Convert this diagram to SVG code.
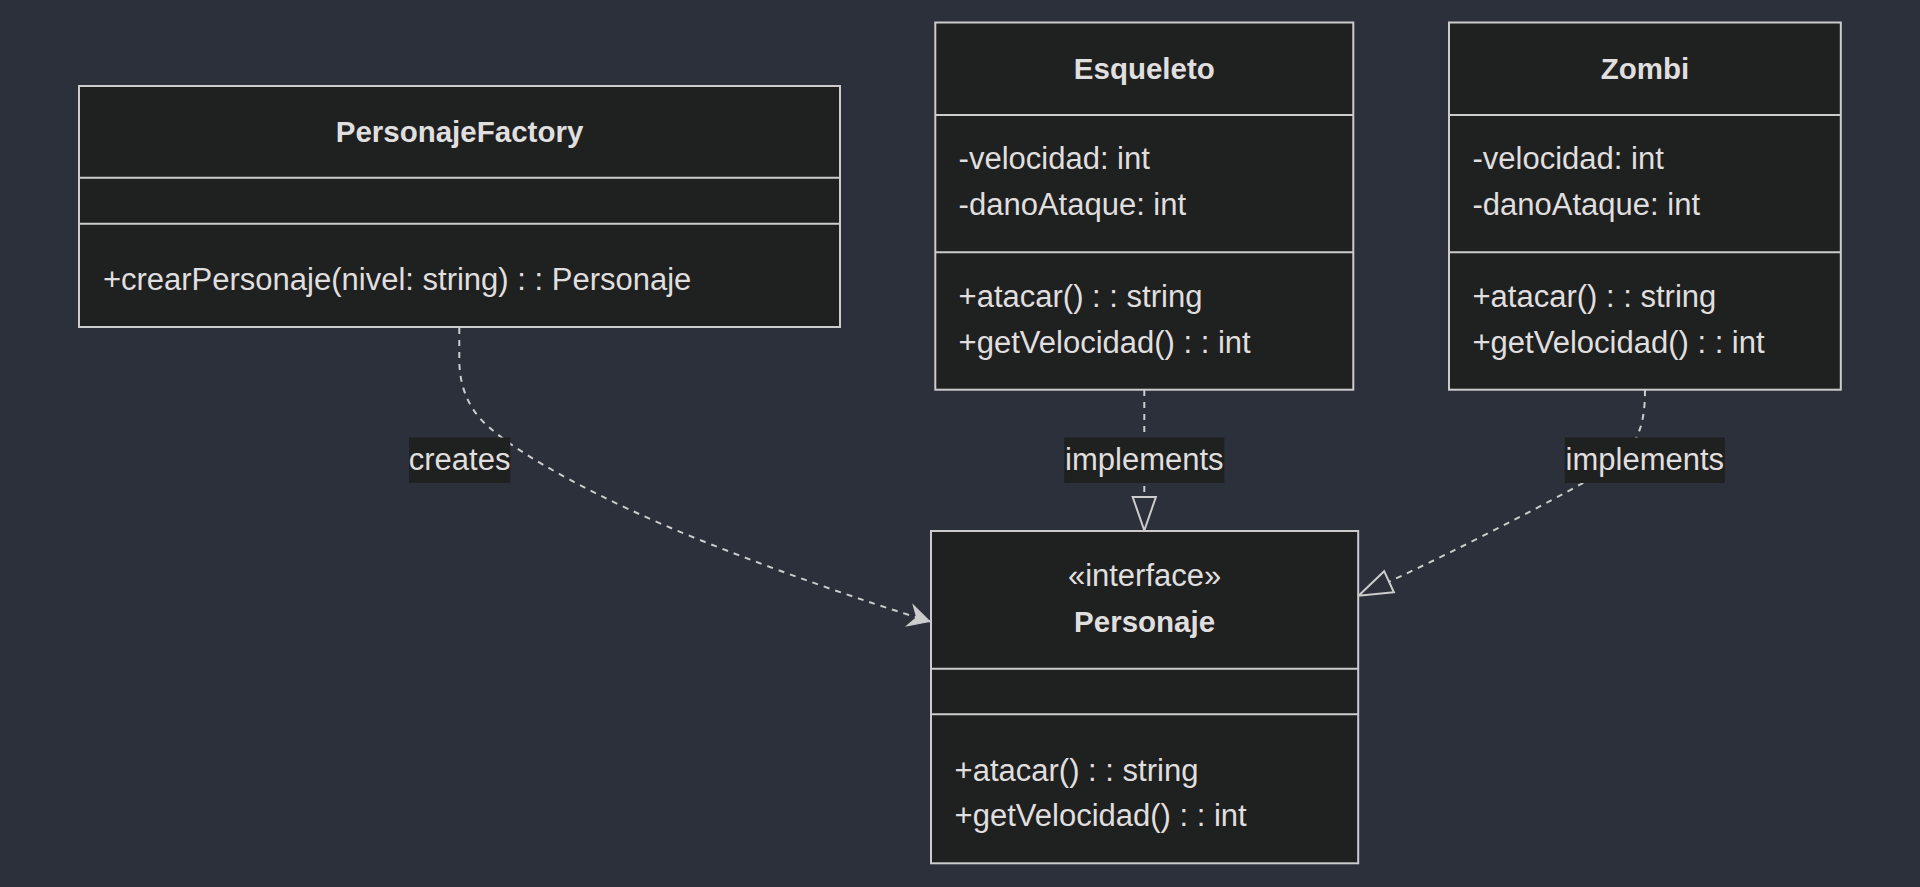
<svg xmlns="http://www.w3.org/2000/svg" width="1920" height="887" viewBox="0 0 1920 887">
<style>
.box{fill:#1f2020;stroke:#cccccc;stroke-width:2}
.sep{stroke:#cccccc;stroke-width:2}
.t{font-family:"Liberation Sans",Arial,sans-serif;font-size:31px;fill:#e0dfdf}
.b{font-family:"Liberation Sans",Arial,sans-serif;font-size:29.5px;font-weight:bold;fill:#e0dfdf;text-anchor:middle}
.c{text-anchor:middle}
.edge{fill:none;stroke:#cccccc;stroke-width:2;stroke-dasharray:6 6}
.lbl{fill:#1f2020}
</style>
<defs>
<marker id="dep" viewBox="-24 -13 26 26" refX="0" refY="0" markerWidth="26" markerHeight="26" markerUnits="userSpaceOnUse" orient="auto">
<path d="M0,0 L-21,-11 L-14,0 L-21,11 Z" fill="#cccccc" stroke="#cccccc" stroke-width="1"/>
</marker>
<marker id="real" viewBox="-2 -14 38 28" refX="0" refY="0" markerWidth="38" markerHeight="28" markerUnits="userSpaceOnUse" orient="auto">
<path d="M0,-11.6 L33.5,0 L0,11.6 Z" fill="none" stroke="#cccccc" stroke-width="2"/>
</marker>
</defs>
<rect width="1920" height="887" fill="#2b303b"/>
<g id="connectors">
<path class="edge" d="M459.3,328 L459.3,360 C459.3,385 468,410 490,428 C520,455 600,500 700,540 C780,572 860,600 930,621.5" marker-end="url(#dep)"/>
<path class="edge" d="M1144.3,390 L1144.3,497" marker-end="url(#real)"/>
<path class="edge" d="M1645,390 C1645,420 1640,440 1620,460 C1595,480 1450,553.7 1389,581.7" marker-end="url(#real)"/>
<g id="label-creates">
<rect class="lbl" x="409" y="437.5" width="101.3" height="45.5"/>
<text class="t c" x="459.6" y="470">creates</text>
</g>
<g id="label-implements-1">
<rect class="lbl" x="1064.3" y="437.5" width="160" height="45.5"/>
<text class="t c" x="1144.3" y="470">implements</text>
</g>
<g id="label-implements-2">
<rect class="lbl" x="1564.8" y="437.5" width="160" height="45.5"/>
<text class="t c" x="1644.8" y="470">implements</text>
</g>
</g>
<g id="PersonajeFactory">
<rect class="box" x="79" y="86" width="761" height="241"/>
<line class="sep" x1="79" y1="177.7" x2="840" y2="177.7"/>
<line class="sep" x1="79" y1="223.7" x2="840" y2="223.7"/>
<text class="b" x="459.5" y="141.5">PersonajeFactory</text>
<text class="t" x="102.9" y="290">+crearPersonaje(nivel: string) : : Personaje</text>
</g>
<g id="Esqueleto">
<rect class="box" x="935.3" y="22.5" width="418" height="367.2"/>
<line class="sep" x1="935.3" y1="115" x2="1353.3" y2="115"/>
<line class="sep" x1="935.3" y1="252.3" x2="1353.3" y2="252.3"/>
<text class="b" x="1144.3" y="79">Esqueleto</text>
<text class="t" x="958.6" y="169.3">-velocidad: int</text>
<text class="t" x="958.6" y="215">-danoAtaque: int</text>
<text class="t" x="958.6" y="307.3">+atacar() : : string</text>
<text class="t" x="958.6" y="353">+getVelocidad() : : int</text>
</g>
<g id="Zombi">
<rect class="box" x="1449" y="22.5" width="391.8" height="367.2"/>
<line class="sep" x1="1449" y1="115" x2="1840.8" y2="115"/>
<line class="sep" x1="1449" y1="252.3" x2="1840.8" y2="252.3"/>
<text class="b" x="1644.9" y="79">Zombi</text>
<text class="t" x="1472.5" y="169.3">-velocidad: int</text>
<text class="t" x="1472.5" y="215">-danoAtaque: int</text>
<text class="t" x="1472.5" y="307.3">+atacar() : : string</text>
<text class="t" x="1472.5" y="353">+getVelocidad() : : int</text>
</g>
<g id="Personaje">
<rect class="box" x="931" y="531" width="427.2" height="332.3"/>
<line class="sep" x1="931" y1="668.7" x2="1358.2" y2="668.7"/>
<line class="sep" x1="931" y1="714.3" x2="1358.2" y2="714.3"/>
<text class="t c" x="1144.6" y="586">«interface»</text>
<text class="b" x="1144.6" y="631.7">Personaje</text>
<text class="t" x="954.6" y="780.7">+atacar() : : string</text>
<text class="t" x="954.6" y="826">+getVelocidad() : : int</text>
</g>
</svg>
